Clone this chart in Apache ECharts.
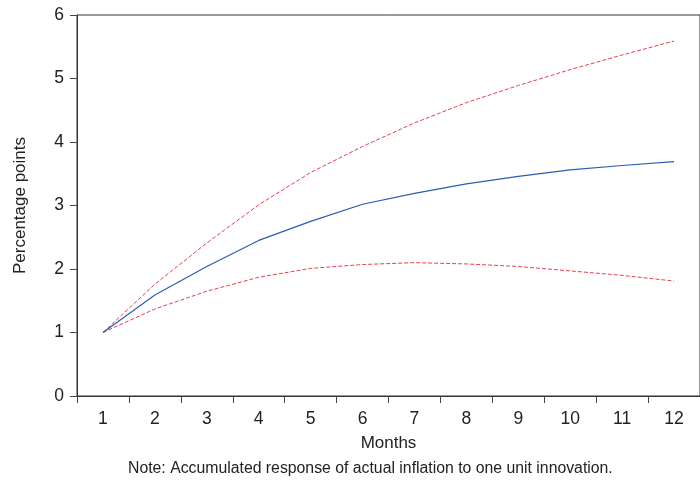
<!DOCTYPE html>
<html>
<head>
<meta charset="utf-8">
<script src="https://cdn.jsdelivr.net/npm/echarts@6/dist/echarts.min.js"></script>
<style>
html,body{margin:0;padding:0;background:#fff;}
#chart{width:700px;height:482px;}
</style>
</head>
<body>
<div id="chart"></div>
<script>
var months = ['1','2','3','4','5','6','7','8','9','10','11','12'];
var response = [1.00, 1.59, 2.04, 2.45, 2.75, 3.02, 3.19, 3.34, 3.46, 3.56, 3.63, 3.69];
var upperBand = [1.00, 1.76, 2.41, 3.01, 3.52, 3.93, 4.30, 4.62, 4.89, 5.14, 5.37, 5.59];
var lowerBand = [1.00, 1.37, 1.65, 1.87, 2.01, 2.07, 2.10, 2.08, 2.04, 1.97, 1.90, 1.81];
var yTicks = [0, 1, 2, 3, 4, 5, 6];

var chart = echarts.init(document.getElementById('chart'), null, {renderer: 'canvas'});
var font = 'Liberation Sans, Arial, sans-serif';
chart.setOption({
  animation: false,
  backgroundColor: '#fff',
  title: {
    text: 'Note: Accumulated response of actual inflation to one unit innovation.',
    left: 128, top: 461,
    padding: 0,
    textStyle: {fontFamily: font, fontSize: 15.8, fontWeight: 'normal', color: '#222'}
  },
  grid: {
    left: 77, top: 15, width: 630, height: 381,
    show: true, borderColor: '#333', borderWidth: 1, backgroundColor: 'transparent'
  },
  xAxis: {
    type: 'category',
    data: months,
    boundaryGap: true,
    name: 'Months',
    nameLocation: 'middle',
    nameGap: 39,
    nameTextStyle: {fontFamily: font, fontSize: 17, color: '#222'},
    axisLine: {lineStyle: {color: '#333', width: 1}},
    axisTick: {show: true, length: 7, lineStyle: {color: '#444'}},
    axisLabel: {fontFamily: font, fontSize: 17.5, color: '#222', margin: 14}
  },
  yAxis: {
    type: 'value',
    min: yTicks[0], max: yTicks[yTicks.length - 1], interval: 1,
    name: 'Percentage points',
    nameLocation: 'middle',
    nameGap: 48,
    nameTextStyle: {fontFamily: font, fontSize: 17, color: '#222'},
    splitLine: {show: false},
    axisLine: {show: true, lineStyle: {color: '#333', width: 1}},
    axisTick: {show: true, length: 7, lineStyle: {color: '#444'}},
    axisLabel: {fontFamily: font, fontSize: 17.5, color: '#222', margin: 13}
  },
  series: [
    {
      type: 'line', data: upperBand, symbol: 'none', smooth: false,
      lineStyle: {color: '#e8404e', width: 1, type: [4, 2]}
    },
    {
      type: 'line', data: lowerBand, symbol: 'none', smooth: false,
      lineStyle: {color: '#e8404e', width: 1, type: [4, 2]}
    },
    {
      type: 'line', data: response, symbol: 'none', smooth: false,
      lineStyle: {color: '#2a5db0', width: 1.2}
    }
  ]
});
</script>
</body>
</html>
